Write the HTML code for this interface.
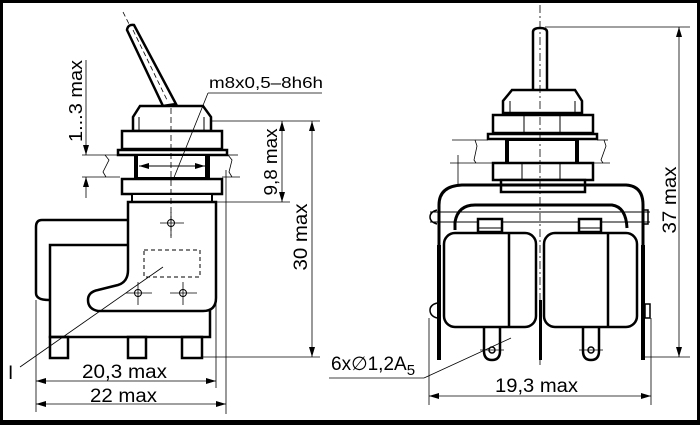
<!DOCTYPE html>
<html><head><meta charset="utf-8"><style>
html,body{margin:0;padding:0;background:#fff}
svg{display:block}
text{font-family:"Liberation Sans",sans-serif;fill:#000}
</style></head><body>
<svg width="700" height="425" viewBox="0 0 700 425" xmlns="http://www.w3.org/2000/svg">
<defs>
<marker id="a" viewBox="0 0 10 6" refX="10" refY="3" markerWidth="10" markerHeight="6" orient="auto-start-reverse" markerUnits="userSpaceOnUse"><path d="M0,0L10,3L0,6z" fill="#000"/></marker>
</defs>
<rect x="1.5" y="1.5" width="697" height="421" fill="none" stroke="#000" stroke-width="3"/>
<rect x="0" y="420" width="700" height="5" fill="#000"/>
<g fill="none" stroke="#000">
<line x1="123" y1="12" x2="130" y2="26" stroke-width="0.8" stroke-dasharray="5,3"/>
<path d="M127,30 Q128,24 134,25 L176,104 L163,106 Z" stroke-width="2.5" fill="#fff"/>
<line x1="133" y1="30" x2="168" y2="102" stroke-width="0.8" stroke-dasharray="5,3"/>
<path d="M140,106 L203,106 L211,117 L211,131 L133,131 L133,117 Z" stroke-width="2.5" fill="#fff"/>
<line x1="139" y1="117" x2="139" y2="131" stroke-width="1"/>
<line x1="204" y1="117" x2="204" y2="131" stroke-width="1"/>
<rect x="122" y="131" width="100" height="18" stroke-width="2.5" fill="#fff"/>
<rect x="118" y="150" width="109" height="5" stroke-width="2.5" fill="#fff"/>
<rect x="135" y="155" width="74" height="23" stroke-width="2" fill="#fff"/>
<rect x="134" y="155" width="4" height="23" fill="#000" stroke="none"/>
<rect x="205" y="155" width="4" height="23" fill="#000" stroke="none"/>
<line x1="139" y1="166" x2="205" y2="166" stroke-width="1" marker-start="url(#a)" marker-end="url(#a)"/>
<rect x="122" y="179" width="100" height="15" stroke-width="2.5" fill="#fff"/>
<rect x="132" y="194" width="80" height="8" stroke-width="2" fill="#fff"/>
<path d="M128,220 L42,220 Q36,220 36,227 L36,293 Q36,300 49,300" stroke-width="2.5"/>
<rect x="50" y="245" width="160" height="92" stroke-width="2.5" fill="#fff"/>
<rect x="50" y="337" width="18" height="21" stroke-width="2.5"/>
<rect x="128" y="337" width="18" height="21" stroke-width="2.5"/>
<rect x="182" y="337" width="20" height="21" stroke-width="2.5"/>
<path d="M128,202 L216,202 L216,298 Q216,311 203,311 L98,311 Q88,309 88,300 Q88,292 98,290 L118,285 Q128,282 128,270 Z" stroke-width="2.5" fill="#fff"/>
<rect x="144" y="250" width="56" height="27" stroke-width="1" stroke-dasharray="4,3"/>
<line x1="171" y1="108" x2="171" y2="238" stroke-width="0.8" stroke-dasharray="6,3"/>
<circle cx="171" cy="223" r="3.5" stroke-width="1"/><line x1="160" y1="223" x2="184" y2="223" stroke-width="0.8"/><line x1="171" y1="212" x2="171" y2="236" stroke-width="0.8"/>
<circle cx="138" cy="293" r="3.5" stroke-width="1"/><line x1="126" y1="293" x2="152" y2="293" stroke-width="0.8"/><line x1="138" y1="282" x2="138" y2="305" stroke-width="0.8"/>
<circle cx="183" cy="293" r="3.5" stroke-width="1"/><line x1="170" y1="293" x2="197" y2="293" stroke-width="0.8"/><line x1="183" y1="282" x2="183" y2="305" stroke-width="0.8"/>
<line x1="20" y1="367" x2="163" y2="267" stroke-width="0.8"/>
<line x1="173" y1="180" x2="208" y2="93" stroke-width="0.8"/>
<line x1="208" y1="93" x2="322" y2="93" stroke-width="0.8"/>
<line x1="86" y1="60" x2="86" y2="155" stroke-width="0.8" marker-end="url(#a)"/>
<line x1="86" y1="198" x2="86" y2="177" stroke-width="0.8" marker-end="url(#a)"/>
<line x1="82" y1="155" x2="117" y2="155" stroke-width="0.8"/>
<line x1="82" y1="177" x2="120" y2="177" stroke-width="0.8"/>
<path d="M105,155 L109,160 L103,172 L106,177" stroke-width="0.8"/>
<line x1="227" y1="155" x2="238" y2="155" stroke-width="0.8"/>
<line x1="222" y1="177" x2="240" y2="177" stroke-width="0.8"/>
<path d="M228,155 L232,160 L229,172 L232,177" stroke-width="0.8"/>
<line x1="210" y1="121" x2="290" y2="121" stroke-width="0.8"/>
<line x1="212" y1="202" x2="290" y2="202" stroke-width="0.8"/>
<line x1="282" y1="121" x2="282" y2="202" stroke-width="0.8" marker-start="url(#a)" marker-end="url(#a)"/>
<line x1="290" y1="121" x2="320" y2="121" stroke-width="0.8"/>
<line x1="202" y1="357" x2="320" y2="357" stroke-width="0.8"/>
<line x1="312" y1="121" x2="312" y2="357" stroke-width="0.8" marker-start="url(#a)" marker-end="url(#a)"/>
<line x1="36" y1="300" x2="36" y2="412" stroke-width="0.8"/>
<line x1="216" y1="300" x2="216" y2="388" stroke-width="0.8"/>
<line x1="226" y1="170" x2="226" y2="414" stroke-width="0.8"/>
<line x1="36" y1="381" x2="216" y2="381" stroke-width="0.8" marker-start="url(#a)" marker-end="url(#a)"/>
<line x1="36" y1="404" x2="226" y2="404" stroke-width="0.8" marker-start="url(#a)" marker-end="url(#a)"/>

<path d="M533,90 L533,32 Q533,28 540,28 Q547,28 547,32 L547,90" stroke-width="2.5" fill="#fff"/>
<path d="M512,90 L575,90 L582,101 L582,113 L503,113 L503,101 Z" stroke-width="2.5" fill="#fff"/>
<line x1="510" y1="101" x2="510" y2="113" stroke-width="1"/><line x1="575" y1="101" x2="575" y2="113" stroke-width="1"/>
<rect x="493" y="115" width="100" height="18" stroke-width="2.5" fill="#fff"/>
<line x1="524" y1="115" x2="524" y2="133" stroke-width="1"/><line x1="560" y1="115" x2="560" y2="133" stroke-width="1"/>
<rect x="488" y="134" width="109" height="5" stroke-width="2.5" fill="#fff"/>
<rect x="506" y="140" width="72" height="23" stroke-width="2" fill="#fff"/>
<rect x="505" y="140" width="4" height="23" fill="#000" stroke="none"/>
<rect x="575" y="140" width="4" height="23" fill="#000" stroke="none"/>
<rect x="493" y="163" width="100" height="17" stroke-width="2.5" fill="#fff"/>
<line x1="522" y1="163" x2="522" y2="180" stroke-width="1"/><line x1="560" y1="163" x2="560" y2="180" stroke-width="1"/>
<rect x="501" y="180" width="84" height="12" stroke-width="2.5" fill="#fff"/>
<line x1="452" y1="140" x2="488" y2="140" stroke-width="0.8"/>
<line x1="450" y1="163" x2="492" y2="163" stroke-width="0.8"/>
<line x1="458" y1="155" x2="458" y2="185" stroke-width="0.8"/>
<path d="M475,140 L477,146 L474,160 L476,163" stroke-width="0.8"/>
<line x1="597" y1="140" x2="608" y2="140" stroke-width="0.8"/>
<line x1="593" y1="163" x2="610" y2="163" stroke-width="0.8"/>
<path d="M604,140 L606,146 L601,160 L603,163" stroke-width="0.8"/>
<path d="M439,258 L439,205 Q439,186 462,185 L626,185 Q643,186 643,205 L643,258" stroke-width="3"/>
<path d="M455,230 L455,222 Q458,205 475,205 L612,205 Q626,207 627,228" stroke-width="3"/>
<line x1="430" y1="212" x2="650" y2="212" stroke-width="1"/>
<line x1="430" y1="222" x2="650" y2="222" stroke-width="1"/>
<path d="M437,210 Q430,212 430,217 Q430,222 437,224" stroke-width="1.5"/>
<rect x="643" y="210" width="5" height="14" stroke-width="1.5"/>
<rect x="437" y="245" width="4" height="115" fill="#000" stroke="none"/>
<rect x="641" y="245" width="4" height="115" fill="#000" stroke="none"/>
<path d="M437,303 Q430,305 430,310 Q430,316 437,318" stroke-width="1.5"/>
<rect x="645" y="304" width="5" height="14" stroke-width="1.5"/>
<rect x="539" y="300" width="3" height="60" fill="#000" stroke="none"/>
<rect x="478" y="219" width="24" height="13" stroke-width="2.5" fill="#fff"/>
<line x1="478" y1="228" x2="502" y2="228" stroke-width="1"/>
<rect x="579" y="219" width="22" height="13" stroke-width="2.5" fill="#fff"/>
<line x1="579" y1="228" x2="601" y2="228" stroke-width="1"/>
<rect x="444" y="233" width="92" height="94" rx="11" stroke-width="2.5" fill="#fff"/>
<line x1="509" y1="233" x2="509" y2="327" stroke-width="2.5"/>
<rect x="544" y="233" width="93" height="94" rx="11" stroke-width="2.5" fill="#fff"/>
<line x1="608" y1="233" x2="608" y2="327" stroke-width="2.5"/>
<path d="M484,328 L484,351 Q484,360 492,360 Q500,360 500,351 L500,328" stroke-width="2.5"/>
<path d="M583,328 L583,351 Q583,360 591,360 Q599,360 599,351 L599,328" stroke-width="2.5"/>
<circle cx="492" cy="350" r="3" stroke-width="1.5"/>
<circle cx="591" cy="350" r="3" stroke-width="1.5"/>
<line x1="480" y1="350" x2="504" y2="350" stroke-width="0.8"/>
<line x1="579" y1="350" x2="603" y2="350" stroke-width="0.8"/>
<line x1="540" y1="5" x2="540" y2="365" stroke-width="0.8" stroke-dasharray="8,3,2,3"/>
<line x1="545" y1="27" x2="690" y2="27" stroke-width="0.8"/>
<line x1="645" y1="357" x2="690" y2="357" stroke-width="0.8"/>
<line x1="679" y1="27" x2="679" y2="357" stroke-width="0.8" marker-start="url(#a)" marker-end="url(#a)"/>
<line x1="429" y1="318" x2="429" y2="405" stroke-width="0.8"/>
<line x1="651" y1="318" x2="651" y2="405" stroke-width="0.8"/>
<line x1="429" y1="396" x2="651" y2="396" stroke-width="0.8" marker-start="url(#a)" marker-end="url(#a)"/>
<line x1="329" y1="378" x2="424" y2="378" stroke-width="0.8"/>
<line x1="424" y1="378" x2="511" y2="338" stroke-width="0.8"/>
</g>
<text x="209" y="88" font-size="16" textLength="114" lengthAdjust="spacingAndGlyphs">m8x0,5–8h6h</text>
<text x="8" y="379" font-size="19" font-family="Liberation Serif">I</text>
<text x="82" y="378" font-size="19" textLength="85" lengthAdjust="spacingAndGlyphs">20,3 max</text>
<text x="90" y="402" font-size="19" textLength="67" lengthAdjust="spacingAndGlyphs">22 max</text>
<text x="331" y="370" font-size="19">6x∅1,2A<tspan font-size="15" dy="5">5</tspan></text>
<text x="495" y="392" font-size="19" textLength="83" lengthAdjust="spacingAndGlyphs">19,3 max</text>
<text transform="translate(82,101) rotate(-90)" font-size="18" text-anchor="middle" textLength="82" lengthAdjust="spacingAndGlyphs">1...3 max</text>
<text transform="translate(277,162) rotate(-90)" font-size="18" text-anchor="middle" textLength="67" lengthAdjust="spacingAndGlyphs">9,8 max</text>
<text transform="translate(307,237) rotate(-90)" font-size="19" text-anchor="middle" textLength="67" lengthAdjust="spacingAndGlyphs">30 max</text>
<text transform="translate(676,200) rotate(-90)" font-size="19" text-anchor="middle" textLength="67" lengthAdjust="spacingAndGlyphs">37 max</text>
</svg>
</body></html>
